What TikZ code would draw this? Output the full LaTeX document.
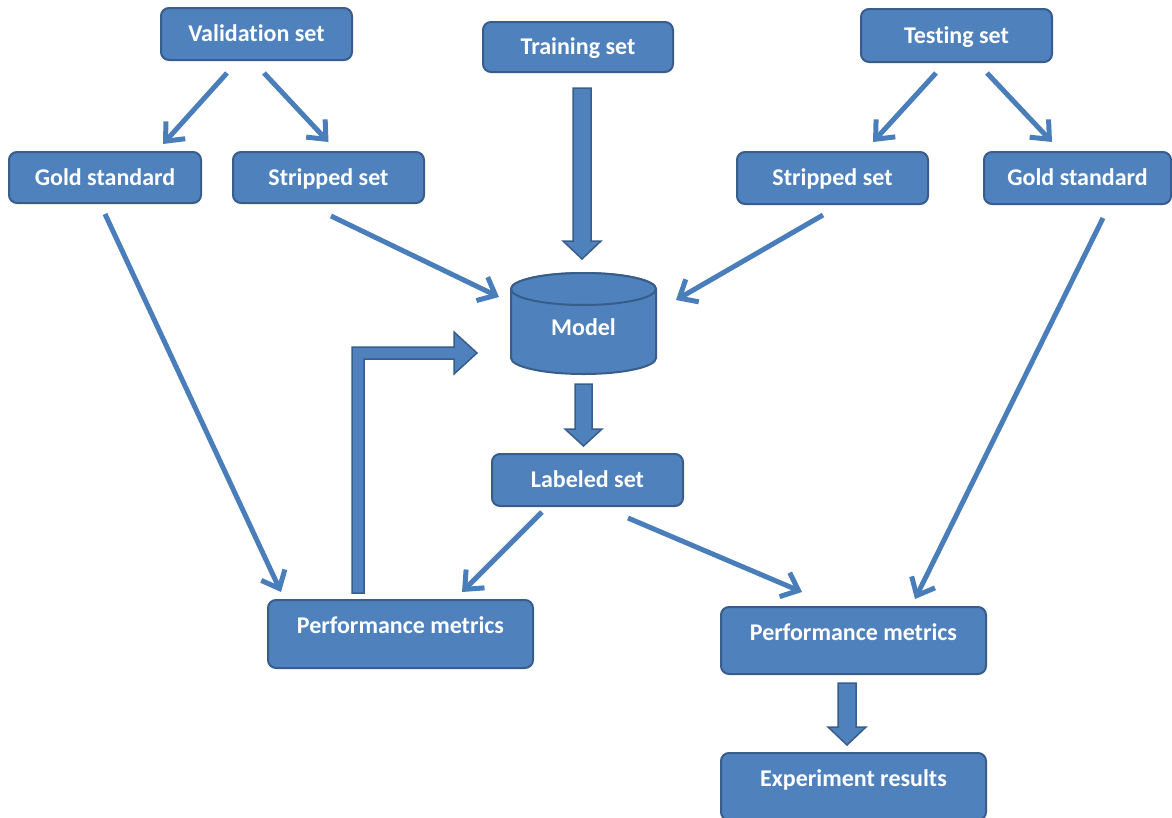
\documentclass[tikz,border=0pt]{standalone}
\usepackage{fontspec}
\setmainfont{Carlito}[Ligatures=NoCommon]
\usetikzlibrary{arrows.meta,calc}
\definecolor{boxfill}{HTML}{4F81BD}
\definecolor{boxline}{HTML}{385D8A}
\definecolor{linkblue}{HTML}{4A7EBB}
\tikzset{
  box/.style={draw=boxline, fill=boxfill, line width=2pt, rounded corners=8pt,
    text=white, font=\bfseries\fontsize{24}{28}\selectfont, inner sep=0pt,
    text height=15.4pt, text depth=0pt},
  link/.style={draw=linkblue, line width=5pt,
    -{Straight Barb[length=15pt,width=26pt]}},
  blockarrow/.style={fill=boxfill, draw=boxline, line width=1.5pt, line join=miter},
  cyl/.style={fill=boxfill, draw=boxline, line width=2pt},
}
\begin{document}
\begin{tikzpicture}[x=1pt,y=-1pt]
\useasboundingbox (0,0) rectangle (1172,817);
\clip (0,0) rectangle (1172,817);

% rounded boxes
\node[box, minimum width=191pt, minimum height=52pt] (val)   at (256.5,34)   {Validation set};
\node[box, minimum width=190pt, minimum height=50pt] (train) at (578,47)     {Training set};
\node[box, minimum width=191pt, minimum height=53pt] (test)  at (956.5,35.5) {Testing set};
\node[box, minimum width=192pt, minimum height=51pt] (goldL) at (105,177.5)  {Gold standard};
\node[box, minimum width=191pt, minimum height=51pt] (stripL) at (328.5,177.5) {Stripped set};
\node[box, minimum width=191pt, minimum height=52pt] (stripR) at (832.5,178) {Stripped set};
\node[box, minimum width=187pt, minimum height=52pt] (goldR) at (1077.5,178) {Gold standard};
\node[box, minimum width=191pt, minimum height=52pt] (lab)   at (587.5,480)  {Labeled set};
\node[box, minimum width=265pt, minimum height=68pt] (perfL) at (400.5,634)  {\raisebox{8pt}{Performance metrics}};
\node[box, minimum width=265pt, minimum height=67pt] (perfR) at (853.5,640.5) {\raisebox{7.5pt}{Performance metrics}};
\node[box, minimum width=265pt, minimum height=67pt] (exp)   at (853.5,786.5) {\raisebox{7.5pt}{Experiment results}};

% model cylinder
\coordinate (mc) at (583.5,323.5);
\path[cyl] ($(mc)+(-72.5,34.5)$) arc[start angle=180, end angle=360, x radius=72.5pt, y radius=16pt]
  -- ($(mc)+(72.5,-34.5)$) arc[start angle=0, end angle=180, x radius=72.5pt, y radius=16pt] -- cycle;
\draw[cyl] ($(mc)+(0,-34.5)$) ellipse[x radius=72.5pt, y radius=16pt];
\node[box, draw=none, fill=none, minimum width=145pt, minimum height=101pt] (model) at (mc) {\raisebox{-4pt}{Model}};

% thin connectors
\draw[link] ($(val.south)+(-29.5,12)$) -- ($(goldL.north)+(58,-7)$);
\draw[link] ($(val.south)+(7.5,12)$) -- ($(stripL.north)+(0,-9)$);
\draw[link] ($(test.south)+(-20.5,10)$) -- ($(stripR.north)+(40.5,-9)$);
\draw[link] ($(test.south)+(30.5,10)$) -- ($(goldR.north)+(-25.5,-9)$);
\draw[link] ($(stripL.south)+(2.5,12)$) -- ($(model.west)+(-11,-26.5)$);
\draw[link] ($(stripR.south)+(-9.5,10)$) -- ($(model.east)+(19,-23.5)$);
\draw[link] ($(goldL.south)+(0,10)$) -- ($(perfL.north west)+(14,-7)$);
\draw[link] ($(goldR.south)+(25.5,13)$) -- ($(perfR.north east)+(-72,-7)$);
\draw[link] ($(lab.south)+(-45.5,5)$) -- ($(perfL.north east)+(-72,-7)$);
\draw[link] ($(lab.south)+(40.5,11)$) -- ($(perfR.north)+(-51.5,-14)$);

% block arrows
\coordinate (ta) at ($(train.south)+(4,15)$);
\coordinate (tb) at ($(model.north)+(-1.5,-13)$);
\draw[blockarrow] ($(ta)+(-9,0)$) -- ($(ta)+(9,0)$) -- ($(tb)+(9,-18)$) -- ($(tb)+(19,-18)$)
  -- (tb) -- ($(tb)+(-19,-18)$) -- ($(tb)+(-9,-18)$) -- cycle;

\coordinate (ma) at ($(model.south)+(0,9)$);
\coordinate (mb) at ($(lab.north)+(-4,-7)$);
\draw[blockarrow] ($(ma)+(-8.5,0)$) -- ($(ma)+(8.5,0)$) -- ($(mb)+(8.5,-17)$) -- ($(mb)+(18.5,-17)$)
  -- (mb) -- ($(mb)+(-18.5,-17)$) -- ($(mb)+(-8.5,-17)$) -- cycle;

\coordinate (pa) at ($(perfR.south)+(-6.5,8)$);
\coordinate (pb) at ($(exp.north)+(-6.5,-7)$);
\draw[blockarrow] ($(pa)+(-9,0)$) -- ($(pa)+(9,0)$) -- ($(pb)+(9,-18)$) -- ($(pb)+(19,-18)$)
  -- (pb) -- ($(pb)+(-19,-18)$) -- ($(pb)+(-9,-18)$) -- cycle;

% bent feedback arrow
\coordinate (bs) at ($(perfL.north)+(-42.5,-6)$);
\coordinate (bt) at ($(model.west)+(-33,29.5)$);
\draw[blockarrow] ($(bs)+(-6,0)$) |- ($(bt)+(-23,-6)$) -- ($(bt)+(-23,-21)$) -- (bt)
  -- ($(bt)+(-23,21)$) -- ($(bt)+(-23,6)$) -| ($(bs)+(6,0)$) -- cycle;
\end{tikzpicture}
\end{document}
